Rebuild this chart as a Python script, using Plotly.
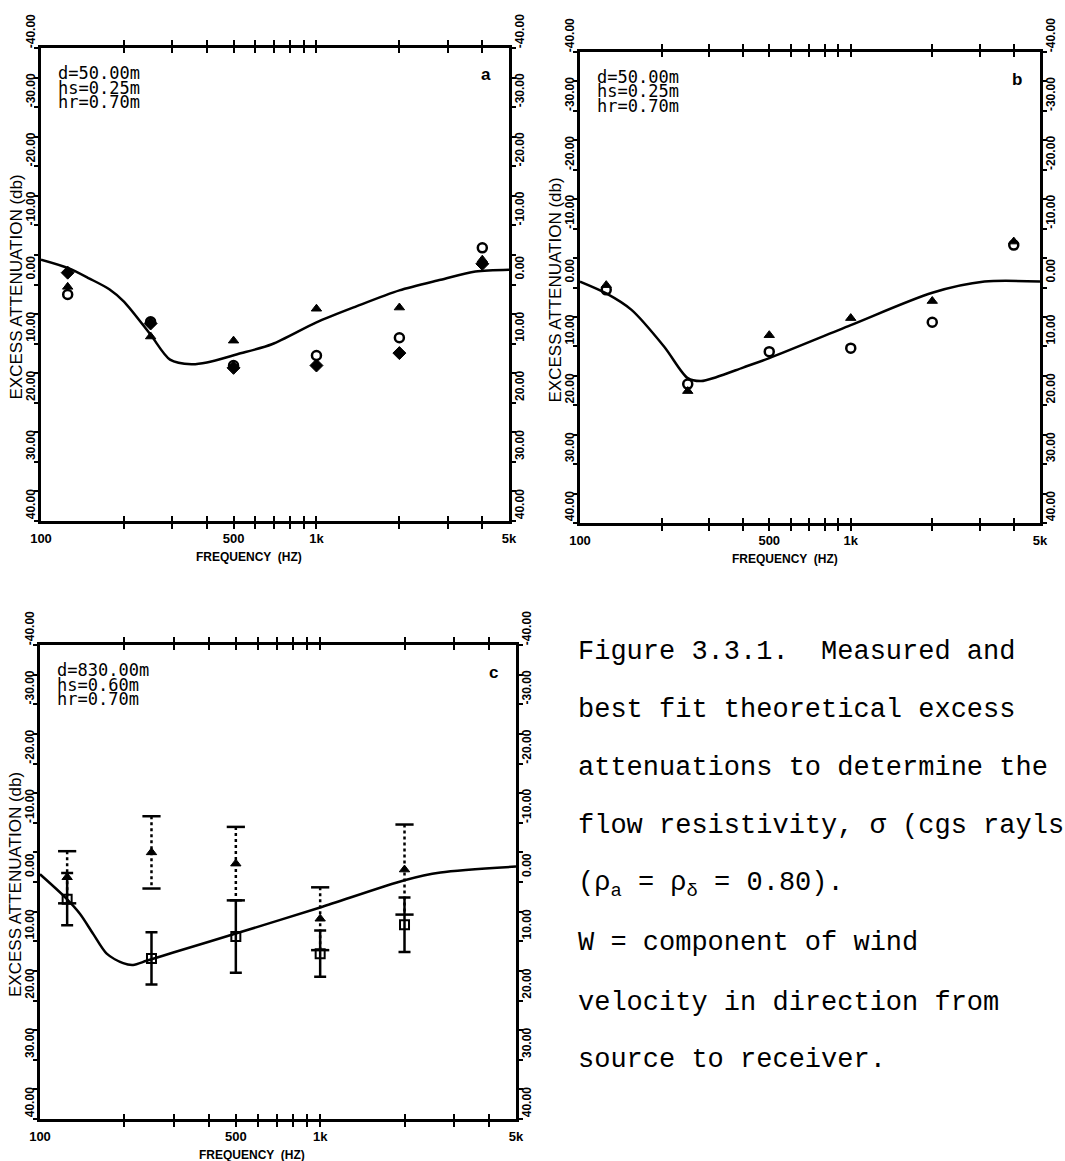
import math
import plotly.graph_objects as go

W, H = 1065, 1161

# ---------------- data ----------------
band_freqs = [125, 250, 500, 1000, 2000, 4000]
band_freqs_c = [125, 250, 500, 1000, 2000]

# panel a
curve_a_f = [100, 125, 150, 177, 200, 250, 294, 352, 400, 516, 689, 1000, 1396, 2000, 2825, 3777, 5000]
curve_a_v = [-4.2, -2.8, -1.0, 0.8, 2.9, 8.5, 12.7, 13.5, 13.2, 11.8, 10.1, 6.4, 3.7, 1.0, -0.8, -2.2, -2.5]
a_triangle = [0.4, 8.8, 9.5, 4.1, 3.9, -4.2]
a_open = [1.7, 6.3, 13.7, 12.0, 9.0, -6.2]
a_filled = [-2.0, 6.6, 14.1, 13.7, 11.6, -3.5]

# panel b
curve_b_f = [100, 125, 155, 205, 250, 280, 320, 400, 500, 1000, 2000, 3120, 5000]
curve_b_v = [-1.0, 1.0, 3.8, 10.1, 15.4, 15.9, 15.2, 13.6, 12.0, 6.4, 0.9, -1.0, -1.0]
b_triangle = [-0.4, 17.6, 8.1, 5.2, 2.3, -7.8]
b_open = [0.4, 16.4, 10.9, 10.3, 5.9, -7.2]

# panel c
curve_c_f = [100, 123, 139, 155, 173, 198, 215, 240, 299, 500, 1000, 2000, 2690, 5000]
curve_c_v = [-1.3, 2.6, 5.4, 8.8, 12.1, 13.7, 14.0, 13.3, 11.9, 8.7, 4.3, -0.3, -1.6, -2.6]
c_triangle = [-0.8, -5.0, -3.1, 6.2, -2.1]
c_triangle_err = [4.4, 6.1, 6.2, 5.3, 7.6]
c_square = [2.9, 12.9, 9.2, 12.1, 7.2]
c_square_err = [4.4, 4.4, 6.1, 3.9, 4.6]

# axis ticks
x_tickvals = [100, 200, 300, 400, 500, 600, 700, 800, 900, 1000, 2000, 3000, 4000, 5000]
x_ticktext = ["100", "", "", "", "500", "", "", "", "", "1k", "", "", "", "5k"]
y_tickvals = [-40, -35, -30, -25, -20, -15, -10, -5, 0, 5, 10, 15, 20, 25, 30, 35, 40]
y_ticktext = ["-40.00", "", "-30.00", "", "-20.00", "", "-10.00", "", "0.00", "",
              "10.00", "", "20.00", "", "30.00", "", "40.00"]

panel_info = [
    dict(label="a", params=["d=50.00m", "hs=0.25m", "hr=0.70m"]),
    dict(label="b", params=["d=50.00m", "hs=0.25m", "hr=0.70m"]),
    dict(label="c", params=["d=830.00m", "hs=0.60m", "hr=0.70m"]),
]

caption_lines = [
    "Figure 3.3.1.  Measured and",
    "best fit theoretical excess",
    "attenuations to determine the",
    "flow resistivity, σ (cgs rayls",
    "(ρ<sub>a</sub> = ρ<sub>δ</sub> = 0.80).",
    "W = component of wind",
    "velocity in direction from",
    "source to receiver.",
]

# ---------------- layout helpers ----------------
def px(x):
    return x / W

def py(y):
    return 1 - y / H

# panel boxes in pixels: left, right, top, bottom
boxes = [(41, 509, 48, 521), (580, 1040, 52, 523), (40, 516, 645, 1119)]

fig = go.Figure()

BLACK = "black"
tickfont_x = dict(family="Liberation Sans", size=13, color=BLACK, weight="bold")
tickfont_y = dict(family="Liberation Sans", size=12, color=BLACK, weight="bold")

def xa(i):
    return "x" if i == 0 else f"x{i+1}"

def ya(i):
    return "y" if i == 0 else f"y{i+1}"

def add_curve(i, f, v):
    fig.add_trace(go.Scatter(x=f, y=v, mode="lines", xaxis=xa(i), yaxis=ya(i),
                             line=dict(color=BLACK, width=2.5, shape="spline", smoothing=0.8),
                             showlegend=False, hoverinfo="skip"))

def add_markers(i, f, v, symbol, size, lw=2):
    fig.add_trace(go.Scatter(x=f, y=v, mode="markers", xaxis=xa(i), yaxis=ya(i),
                             marker=dict(symbol=symbol, size=size, color=BLACK,
                                         line=dict(color=BLACK, width=lw)),
                             showlegend=False, hoverinfo="skip"))

# panel a
add_curve(0, curve_a_f, curve_a_v)
add_markers(0, band_freqs, a_filled, "diamond", 10, 1)
add_markers(0, band_freqs, a_open, "circle-open", 9, 2.5)
add_markers(0, band_freqs, a_triangle, "triangle-up", 9, 1)

# panel b
add_curve(1, curve_b_f, curve_b_v)
add_markers(1, band_freqs, b_open, "circle-open", 9, 2.5)
add_markers(1, band_freqs, b_triangle, "triangle-up", 9, 1)

# panel c
add_curve(2, curve_c_f, curve_c_v)
stem_x, stem_y, cap_x, cap_y = [], [], [], []
for f, v, e in zip(band_freqs_c, c_triangle, c_triangle_err):
    stem_x += [f, f, None]
    stem_y += [v - e, v + e, None]
    cap_x += [f, f]
    cap_y += [v - e, v + e]
fig.add_trace(go.Scatter(x=stem_x, y=stem_y, mode="lines", xaxis="x3", yaxis="y3",
                         line=dict(color=BLACK, width=2.5, dash="dot"),
                         showlegend=False, hoverinfo="skip"))
fig.add_trace(go.Scatter(x=cap_x, y=cap_y, mode="markers", xaxis="x3", yaxis="y3",
                         marker=dict(symbol="line-ew", size=13, color=BLACK,
                                     line=dict(color=BLACK, width=2.5)),
                         showlegend=False, hoverinfo="skip"))
fig.add_trace(go.Scatter(x=band_freqs_c, y=c_square, mode="markers", xaxis="x3", yaxis="y3",
                         marker=dict(symbol="square-open", size=9, color=BLACK,
                                     line=dict(color=BLACK, width=2)),
                         error_y=dict(type="data", array=c_square_err, visible=True,
                                      color=BLACK, thickness=2.5, width=6),
                         showlegend=False, hoverinfo="skip"))
add_markers(2, band_freqs_c, c_triangle, "triangle-up", 9, 1)

# dummy traces so right-hand axes render
for i in range(3):
    fig.add_trace(go.Scatter(x=[1000], y=[0], mode="markers", xaxis=xa(i), yaxis=f"y{i+4}",
                             marker=dict(opacity=0), showlegend=False, hoverinfo="skip"))

layout = dict(width=W, height=H, autosize=False,
              margin=dict(l=0, r=0, t=0, b=0, autoexpand=False),
              paper_bgcolor="white", plot_bgcolor="white")

annotations = []
for i, (l, r, t, b) in enumerate(boxes):
    xd = [px(l), px(r)]
    yd = [py(b), py(t)]
    xname = "xaxis" if i == 0 else f"xaxis{i+1}"
    yname = "yaxis" if i == 0 else f"yaxis{i+1}"
    layout[xname] = dict(domain=xd, type="log", range=[2, math.log10(5000)],
                         anchor=ya(i), tickvals=x_tickvals, ticktext=x_ticktext,
                         ticks="inside", ticklen=5, tickwidth=2, tickcolor=BLACK,
                         showline=True, linewidth=2.5, linecolor=BLACK, mirror="allticks",
                         showgrid=False, zeroline=False, tickfont=tickfont_x,
                         ticklabelstandoff=4, automargin=False)
    ycommon = dict(range=[40, -40], tickvals=y_tickvals, ticktext=y_ticktext,
                   ticks="outside", ticklen=4, tickwidth=2, tickcolor=BLACK,
                   showline=True, linewidth=2.5, linecolor=BLACK,
                   showgrid=False, zeroline=False, tickfont=tickfont_y,
                   tickangle=-90, ticklabelshift=15, ticklabelstandoff=-6,
                   automargin=False)
    layout[yname] = dict(domain=yd, anchor=xa(i), side="left", **ycommon)
    layout[f"yaxis{i+4}"] = dict(overlaying=ya(i), anchor=xa(i), side="right", **ycommon)

    # parameter text
    line_y = [t + 25, t + 39.5, t + 54]
    for txt, yy in zip(panel_info[i]["params"], line_y):
        annotations.append(dict(text=txt, x=px(l + 15), y=py(yy), xref="paper", yref="paper",
                                xanchor="left", yanchor="middle", showarrow=False,
                                font=dict(family="DejaVu Sans Mono", size=17, color=BLACK)))
    annotations.append(dict(text="<b>" + panel_info[i]["label"] + "</b>", x=px(r - 23), y=py(t + 27),
                            xref="paper", yref="paper", xanchor="center", yanchor="middle",
                            showarrow=False, font=dict(family="Liberation Sans", size=17, color=BLACK)))
    # y title
    annotations.append(dict(text="EXCESS ATTENUATION (db)", x=px(l - 25), y=py((t + b) / 2 + 3),
                            xref="paper", yref="paper", xanchor="center", yanchor="middle",
                            textangle=-90, showarrow=False,
                            font=dict(family="Liberation Sans", size=17, color=BLACK)))
    # x title
    annotations.append(dict(text="<b>FREQUENCY  (HZ)</b>", x=px(l + 0.445 * (r - l)), y=py(b + 36),
                            xref="paper", yref="paper", xanchor="center", yanchor="middle",
                            showarrow=False,
                            font=dict(family="Liberation Sans", size=12, color=BLACK)))

cap_y_px = [652, 710, 768, 826, 885, 943, 1003, 1060]
for txt, yy in zip(caption_lines, cap_y_px):
    annotations.append(dict(text=txt, x=px(576), y=py(yy), xref="paper", yref="paper",
                            xanchor="left", yanchor="middle", showarrow=False,
                            font=dict(family="Liberation Mono", size=27, color=BLACK)))

layout["annotations"] = annotations
fig.update_layout(**layout)
fig.write_html("out.html")
